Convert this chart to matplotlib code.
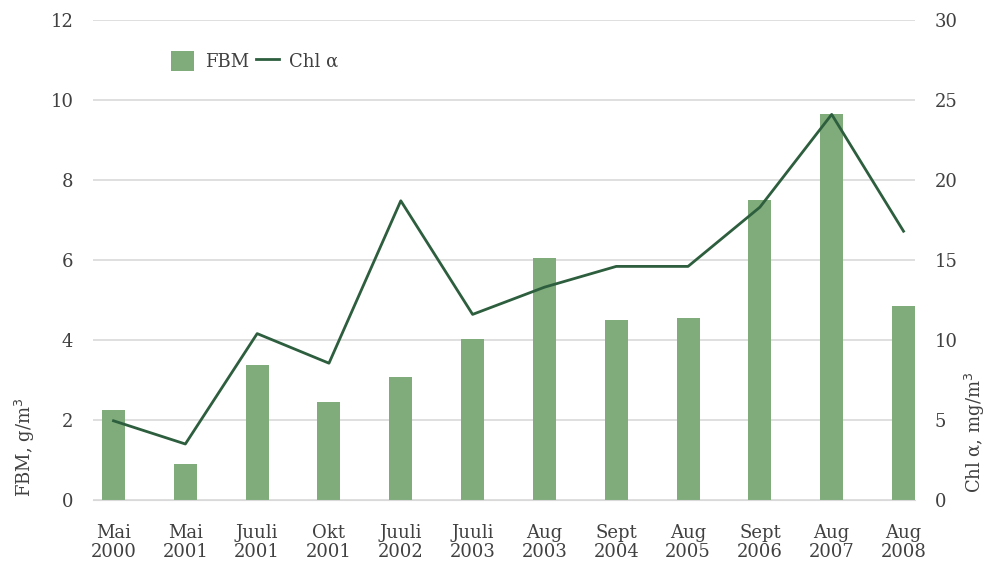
import matplotlib.pyplot as plt
import numpy as np

plt.rcParams['font.family'] = ['DejaVu Serif']

# andmed
kuupaevad = ['Mai\n2000', 'Mai\n2001', 'Juuli\n2001', 'Okt\n2001', 'Juuli\n2002',
             'Juuli\n2003', 'Aug\n2003', 'Sept\n2004', 'Aug\n2005', 'Sept\n2006',
             'Aug\n2007', 'Aug\n2008']
fbm = [2.25, 0.9, 3.37, 2.45, 3.07, 4.02, 6.05, 4.5, 4.55, 7.5, 9.65, 4.85]
chl = [4.95, 3.5, 10.4, 8.55, 18.7, 11.6, 13.3, 14.6, 14.6, 18.3, 24.1, 16.8]

tekst = '#404040'
fig = plt.figure(figsize=(9.9, 5.62), dpi=100)
ax = fig.add_axes([92.7/990, 1-500/562, (915-92.7)/990, 480/562])
ax2 = ax.twinx()

x = np.arange(len(kuupaevad))
ax.bar(x, fbm, width=0.32, color='#7fac7a', label='FBM', zorder=2)
ax2.plot(x, chl, color='#2d5e3e', linewidth=2.0, label='Chl α', zorder=3)

ax.set_xlim(-0.29, 11.16)
ax.set_ylim(0, 12)
ax.set_yticks(range(0, 13, 2))
ax2.set_ylim(0, 30)
ax2.set_yticks(range(0, 31, 5))
ax.set_xticks(x)
ax.set_xticklabels(kuupaevad, linespacing=1.1)

ax.grid(axis='y', color='#d9d9d9', linewidth=1.2, zorder=0)
for a in (ax, ax2):
    for s in a.spines.values():
        s.set_visible(False)
    a.tick_params(length=0, labelsize=13, colors=tekst)
ax.spines['bottom'].set_visible(True)
ax.spines['bottom'].set_color('#d9d9d9')
ax.tick_params(axis='y', pad=14)
ax2.tick_params(axis='y', pad=14)
ax.tick_params(axis='x', pad=17)

fig.text(25/990, 1-447/562, 'FBM, g/m$^3$', rotation=90, ha='center', va='center',
         fontsize=13, color=tekst)
fig.text(975/990, 1-432/562, 'Chl α, mg/m$^3$', rotation=90, ha='center', va='center',
         fontsize=13, color=tekst)

h1, l1 = ax.get_legend_handles_labels()
h2, l2 = ax2.get_legend_handles_labels()
ax.legend(h1 + h2, l1 + l2, loc='center left', bbox_to_anchor=(155/990, 1-61/562),
          bbox_transform=fig.transFigure, ncol=2, frameon=False, fontsize=13,
          handlelength=1.25, handleheight=1.3, columnspacing=0.4, handletextpad=0.6,
          labelcolor=tekst)

fig.savefig('out.png', dpi=100)
